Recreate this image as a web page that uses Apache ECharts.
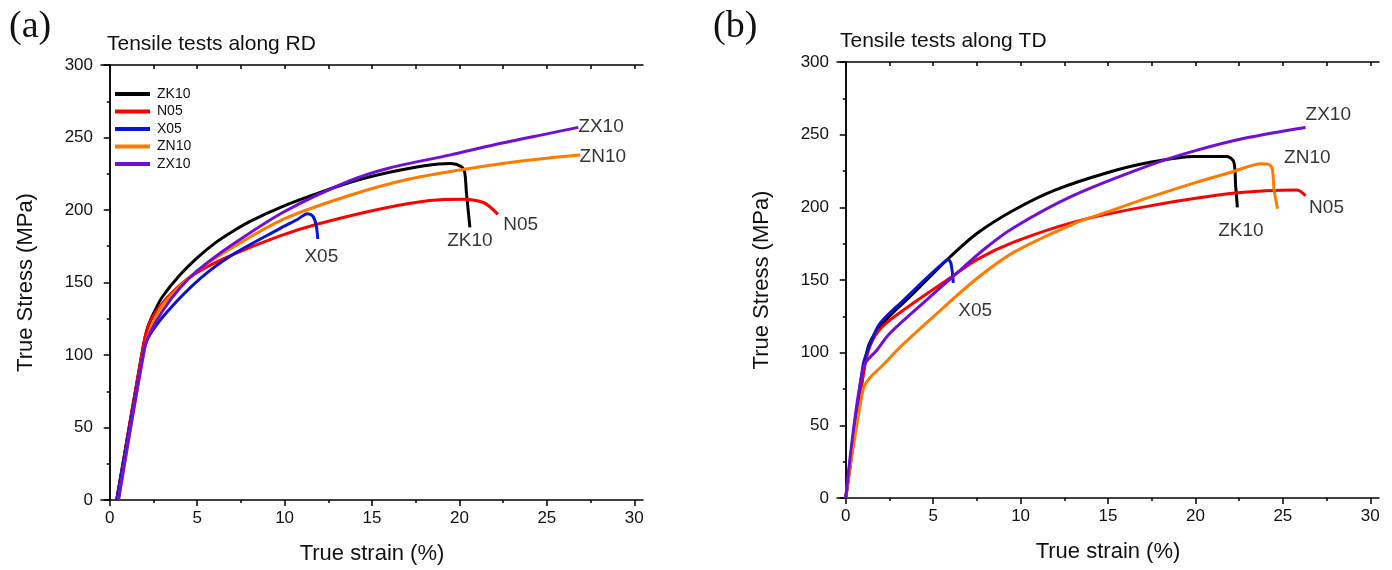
<!DOCTYPE html>
<html>
<head>
<meta charset="utf-8">
<script src="https://cdn.jsdelivr.net/npm/echarts@6/dist/echarts.min.js"></script>
<style>
  html, body { margin: 0; padding: 0; background: #fff; }
  #chart { width: 1392px; height: 570px; }
</style>
</head>
<body>
<div id="chart"></div>
<script>
// Tensile curves: true strain (%) vs true stress (MPa)
const seriesNames = ['ZK10', 'N05', 'X05', 'ZN10', 'ZX10'];
const seriesColors = ['#000000', '#ff0000', '#0a14d2', '#ff7a00', '#7010d4'];

// Along the rolling direction (RD)
const rdZK10 = [[0.4,0],[1.9,105],[2.2,120],[2.6,131],[3,140],[4,155],[5,167],[6,177],[7,185],[8,192],[10,203],[12,212],[14,220],[16,226],[18,230.5],[19.5,232],[20.1,230],[20.3,226],[20.4,212],[20.5,200],[20.6,188]];
const rdN05  = [[0.4,0],[1.9,105],[2.2,120],[2.9,134],[4,148],[5,157],[7,169],[9.7,182],[11.8,190],[15.6,201],[18.3,206.5],[20.2,207.5],[21.4,205],[22.2,197]];
const rdX05  = [[0.4,0],[1.9,100],[2.2,112],[3.3,130],[5.2,153],[7,169],[9.7,187],[10.8,194],[11.3,197.5],[11.6,196],[11.8,190],[11.9,180]];
const rdZN10 = [[0.5,0],[2,105],[2.3,117],[3,134],[5,158],[7,174],[10,194],[13.7,210],[17,221],[20.2,228],[23,233],[25.2,236],[26.9,238]];
const rdZX10 = [[0.5,0],[2,105],[2.3,115],[3,130],[4,146],[5,158],[7,176],[10,199],[13.7,220],[16,229],[19.5,238],[22,245],[25.2,253],[26.8,257]];

// Along the transverse direction (TD)
const tdZK10 = [[0,0],[1.2,100],[1.6,112],[2.5,125],[3.8,140],[5.8,164],[7.5,182],[9.6,198],[12,212],[15,224],[17.4,231],[20,235],[21.8,235],[22.2,231],[22.3,215],[22.4,200]];
const tdN05  = [[0,0],[1.0,85],[1.4,105],[2.1,118],[3.5,131],[5.8,150],[7.5,164],[9.6,176],[13.1,190],[17.4,201],[22.4,210],[25.8,212],[26.3,208]];
const tdX05  = [[0,0],[1.0,92],[1.4,106],[1.95,120],[3.3,136],[4.5,150],[5.6,162],[5.85,164],[6.0,162],[6.1,155],[6.15,148]];
const tdZN10 = [[0,0],[1.0,75],[1.4,83],[2,90],[3.3,106],[5.4,129],[7.5,151],[9.6,169],[13.1,189],[15,197],[17.4,207],[20,217],[22,224],[23.8,230],[24.2,229.5],[24.4,226],[24.5,212],[24.7,199]];
const tdZX10 = [[0,0],[1.0,90],[1.8,102],[2.5,113],[4.6,136],[6.1,152],[8,172],[9.6,186],[13,208],[17.4,229],[20,239],[23,248],[26.3,255]];

// Axis ticks
const strainTicks = [0, 5, 10, 15, 20, 25, 30];
const strainMinorTicks = [2.5, 7.5, 12.5, 17.5, 22.5, 27.5];
const strainAllTicks = [0, 2.5, 5, 7.5, 10, 12.5, 15, 17.5, 20, 22.5, 25, 27.5, 30];

// Curve annotations: [strain, stress, text]
const rdCurveLabels = [[28.1, 257.5, 'ZX10'], [28.2, 237, 'ZN10'], [23.5, 190, 'N05'], [20.6, 179, 'ZK10'], [12.1, 168, 'X05']];
const tdCurveLabels = [[27.6, 264, 'ZX10'], [26.4, 234, 'ZN10'], [27.5, 200, 'N05'], [22.6, 184, 'ZK10'], [7.4, 129, 'X05']];

const rdData = [rdZK10, rdN05, rdX05, rdZN10, rdZX10];
const tdData = [tdZK10, tdN05, tdX05, tdZN10, tdZX10];

const FONT = 'Liberation Sans, Arial, sans-serif';
const SERIF = 'Liberation Serif, Times New Roman, serif';
const TXT = '#111';

function xAxes(gridIndex) {
  const base = { gridIndex, type: 'value', min: -0.5, max: 30.5, splitLine: { show: false } };
  return [
    Object.assign({}, base, {
      position: 'bottom',
      axisLine: { show: true, lineStyle: { color: '#000', width: 1.5 } },
      axisTick: { show: true, customValues: strainTicks, length: 6, lineStyle: { color: '#000', width: 1.5 } },
      axisLabel: { show: true, customValues: strainTicks, fontFamily: FONT, fontSize: 17, color: TXT, margin: 10 },
      name: 'True strain (%)', nameLocation: 'middle', nameGap: 43,
      nameTextStyle: { fontFamily: FONT, fontSize: 22, color: TXT }
    }),
    Object.assign({}, base, {
      position: 'bottom',
      axisLine: { show: false },
      axisTick: { show: true, customValues: strainMinorTicks, length: 3, lineStyle: { color: '#000', width: 1.5 } },
      axisLabel: { show: false }
    }),
    Object.assign({}, base, {
      position: 'top',
      axisLine: { show: true, lineStyle: { color: '#000', width: 1.5 } },
      axisTick: { show: true, inside: true, customValues: strainAllTicks, length: 4, lineStyle: { color: '#000', width: 1.5 } },
      axisLabel: { show: false }
    })
  ];
}

function yAxes(gridIndex) {
  const base = { gridIndex, type: 'value', min: 0, max: 300, interval: 50, splitLine: { show: false } };
  return [
    Object.assign({}, base, {
      position: 'left',
      axisLine: { show: true, lineStyle: { color: '#000', width: 1.5 } },
      axisTick: { show: true, length: 6, lineStyle: { color: '#000', width: 1.5 } },
      minorTick: { show: true, splitNumber: 2, length: 3, lineStyle: { color: '#000', width: 1.5 } },
      axisLabel: { fontFamily: FONT, fontSize: 17, color: TXT, margin: 8 },
      name: 'True Stress (MPa)', nameLocation: 'middle', nameRotate: 90, nameGap: 64,
      nameTextStyle: { fontFamily: FONT, fontSize: 22, color: TXT }
    }),
    Object.assign({}, base, {
      position: 'right',
      axisLine: { show: true, lineStyle: { color: '#000', width: 1.5 } },
      axisTick: { show: true, inside: true, length: 5, lineStyle: { color: '#000', width: 1.5 } },
      minorTick: { show: true, splitNumber: 2, length: 3, lineStyle: { color: '#000', width: 1.5 } },
      axisLabel: { show: false }
    })
  ];
}

function curveSeries(dataSets, xIdx, yIdx) {
  return dataSets.map((d, i) => ({
    name: seriesNames[i],
    type: 'line',
    xAxisIndex: xIdx,
    yAxisIndex: yIdx,
    data: d,
    smooth: 0.3,
    showSymbol: false,
    symbol: 'none',
    lineStyle: { color: seriesColors[i], width: 3 },
    itemStyle: { color: seriesColors[i] },
    z: 3
  }));
}

function labelSeries(labels, xIdx, yIdx) {
  return {
    type: 'scatter',
    xAxisIndex: xIdx,
    yAxisIndex: yIdx,
    symbolSize: 0,
    silent: true,
    data: labels.map(l => ({ value: [l[0], l[1]], name: l[2] })),
    label: {
      show: true, position: 'inside', formatter: p => p.name,
      fontFamily: FONT, fontSize: 19, color: '#000'
    }
  };
}

const option = {
  backgroundColor: '#fff',
  animation: false,
  title: [
    { text: '(a)', left: 9, top: 8, padding: 0, textStyle: { fontFamily: SERIF, fontSize: 38, fontWeight: 'normal', color: TXT } },
    { text: 'Tensile tests along RD', left: 107, top: 34, padding: 0, textStyle: { fontFamily: FONT, fontSize: 21, fontWeight: 'normal', color: TXT } },
    { text: '(b)', left: 713, top: 8, padding: 0, textStyle: { fontFamily: SERIF, fontSize: 38, fontWeight: 'normal', color: TXT } },
    { text: 'Tensile tests along TD', left: 840, top: 31, padding: 0, textStyle: { fontFamily: FONT, fontSize: 21, fontWeight: 'normal', color: TXT } }
  ],
  legend: {
    data: seriesNames,
    orient: 'vertical',
    left: 115, top: 87,
    padding: 0,
    itemWidth: 35, itemHeight: 4, itemGap: 3.5,
    icon: 'rect',
    textStyle: { fontFamily: FONT, fontSize: 14, color: TXT, lineHeight: 14, padding: [0, 0, 0, 2] },
    selectedMode: false
  },
  grid: [
    { left: 101, top: 65, width: 542, height: 438 },
    { left: 837, top: 62, width: 542, height: 436 }
  ],
  xAxis: [...xAxes(0), ...xAxes(1)],
  yAxis: [...yAxes(0), ...yAxes(1)],
  series: [
    ...curveSeries(rdData, 0, 0),
    labelSeries(rdCurveLabels, 0, 0),
    ...curveSeries(tdData, 3, 2),
    labelSeries(tdCurveLabels, 3, 2)
  ]
};

const chart = echarts.init(document.getElementById('chart'), null, { renderer: 'canvas' });
chart.setOption(option);
</script>
</body>
</html>
